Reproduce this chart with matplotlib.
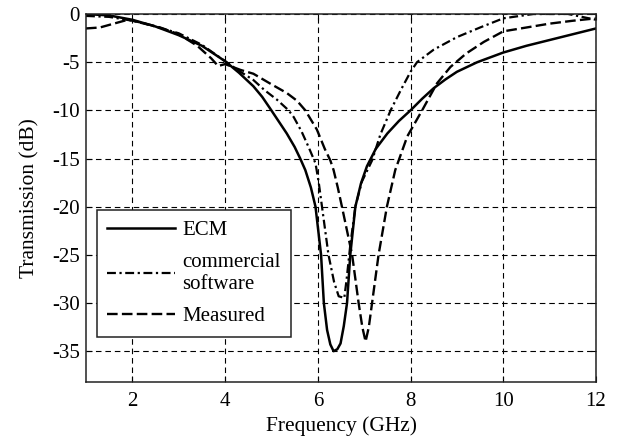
import matplotlib
matplotlib.use("Agg")
import matplotlib.pyplot as plt

# ECM (solid)
freq_ecm = [1.0, 1.5, 2.0, 2.5, 3.0, 3.5, 4.0, 4.3, 4.61, 4.8, 4.97, 5.15, 5.33,
            5.5, 5.62, 5.73, 5.85, 5.95, 6.01, 6.07, 6.1, 6.13, 6.2, 6.27, 6.34,
            6.42, 6.49, 6.56, 6.63, 6.7, 6.81, 6.93, 7.06, 7.25, 7.5, 7.75, 8.0,
            8.25, 8.5, 8.75, 9.0, 9.44, 10.0, 10.5, 11.0, 11.5, 12.0]
db_ecm = [0.0, -0.15, -0.6, -1.3, -2.2, -3.3, -4.9, -6.1, -7.5, -8.6, -9.8,
          -11.1, -12.4, -13.8, -15.0, -16.2, -18.0, -20.0, -22.5, -25.0, -27.5,
          -30.0, -32.8, -34.3, -35.0, -34.8, -34.2, -32.4, -30.0, -25.0, -20.0,
          -17.6, -15.8, -14.0, -12.4, -11.1, -10.0, -8.8, -7.7, -6.8, -6.0, -5.0,
          -4.0, -3.3, -2.7, -2.1, -1.5]

# Commercial software (dash-dot)
freq_cs = [1.0, 1.5, 2.0, 2.5, 3.0, 3.5, 4.0, 4.3, 4.61, 4.85, 5.12, 5.37, 5.48,
           5.65, 5.8, 5.95, 6.02, 6.09, 6.16, 6.23, 6.35, 6.45, 6.52, 6.57, 6.62,
           6.7, 6.81, 6.95, 7.17, 7.35, 7.57, 7.8, 8.0, 8.14, 8.5, 9.0, 9.5, 10.0,
           10.65, 11.4, 12.0]
db_cs = [-0.2, -0.3, -0.7, -1.3, -2.0, -3.2, -4.9, -5.9, -6.85, -7.9, -8.9, -10.0,
         -10.7, -12.2, -13.8, -15.5, -17.5, -20.0, -22.5, -25.0, -27.8, -29.3,
         -29.4, -29.5, -27.6, -24.0, -20.0, -17.4, -15.2, -12.5, -10.0, -7.8,
         -6.0, -5.0, -3.7, -2.4, -1.4, -0.45, 0.0, 0.0, -0.6]

# Measured (dashed)
freq_meas = [1.0, 1.3, 1.6, 1.9, 2.2, 2.6, 3.0, 3.4, 3.7, 3.85, 4.0, 4.33, 4.61,
             5.0, 5.33, 5.55, 5.73, 5.98, 6.15, 6.27, 6.34, 6.43, 6.52, 6.63, 6.74,
             6.88, 6.96, 7.03, 7.1, 7.17, 7.31, 7.49, 7.67, 7.93, 8.25, 8.57, 8.86,
             9.2, 9.58, 10.0, 10.5, 11.0, 11.5, 12.0]
db_meas = [-1.5, -1.4, -1.0, -0.6, -0.9, -1.4, -2.1, -3.3, -4.6, -5.4, -5.2, -5.8,
           -6.2, -7.3, -8.2, -9.0, -10.0, -12.0, -14.0, -15.2, -16.2, -18.0, -20.0,
           -22.5, -25.0, -30.0, -32.5, -34.0, -32.5, -30.0, -25.0, -20.0, -16.2,
           -12.7, -10.0, -7.2, -5.5, -4.1, -2.9, -1.8, -1.4, -1.0, -0.7, -0.45]

labels = ["ECM", "commercial\nsoftware", "Measured"]
xticks = [2, 4, 6, 8, 10, 12]
yticks = [0, -5, -10, -15, -20, -25, -30, -35]

plt.rcParams['font.family'] = ['Liberation Serif', 'DejaVu Serif']
plt.rcParams['font.size'] = 15

fig = plt.figure(figsize=(6.23, 4.42), dpi=100)
ax = fig.add_axes([86 / 623, 1 - 382 / 442, 510 / 623, 368 / 442])

ax.plot(freq_ecm, db_ecm, color='black', lw=1.8, linestyle='-', label=labels[0])
ax.plot(freq_cs, db_cs, color='black', lw=1.6, linestyle=(0, (4, 1.6, 1, 1.6)),
        label=labels[1])
ax.plot(freq_meas, db_meas, color='black', lw=1.7, linestyle=(0, (4.5, 1.8)),
        label=labels[2])

ax.set_xlim(1, 12)
ax.set_ylim(-38.2, 0)
ax.set_xticks(xticks)
ax.set_yticks(yticks)
ax.set_yticklabels([str(t) for t in yticks])
ax.grid(True, color='black', linestyle=(0, (5, 3.5)), linewidth=0.8)
ax.tick_params(direction='in', top=True, right=True, length=4, width=0.8,
               labelsize=15)
ax.tick_params(axis='x', pad=7)
ax.tick_params(axis='y', pad=4.5)
for s in ax.spines.values():
    s.set_linewidth(1.1)
    s.set_color('#222222')

ax.set_xlabel("Frequency (GHz)", fontsize=15.5, labelpad=4)
ax.set_ylabel("Transmission (dB)", fontsize=15.5, labelpad=9)

leg = ax.legend(loc='upper left', bbox_to_anchor=(0.021, 0.467), borderaxespad=0,
                fancybox=False, framealpha=1, edgecolor='#222222',
                handlelength=3.26, fontsize=15, labelspacing=0.62, borderpad=0.5,
                handletextpad=0.35)
leg.get_frame().set_linewidth(1.1)

fig.savefig("out.png", dpi=100)
